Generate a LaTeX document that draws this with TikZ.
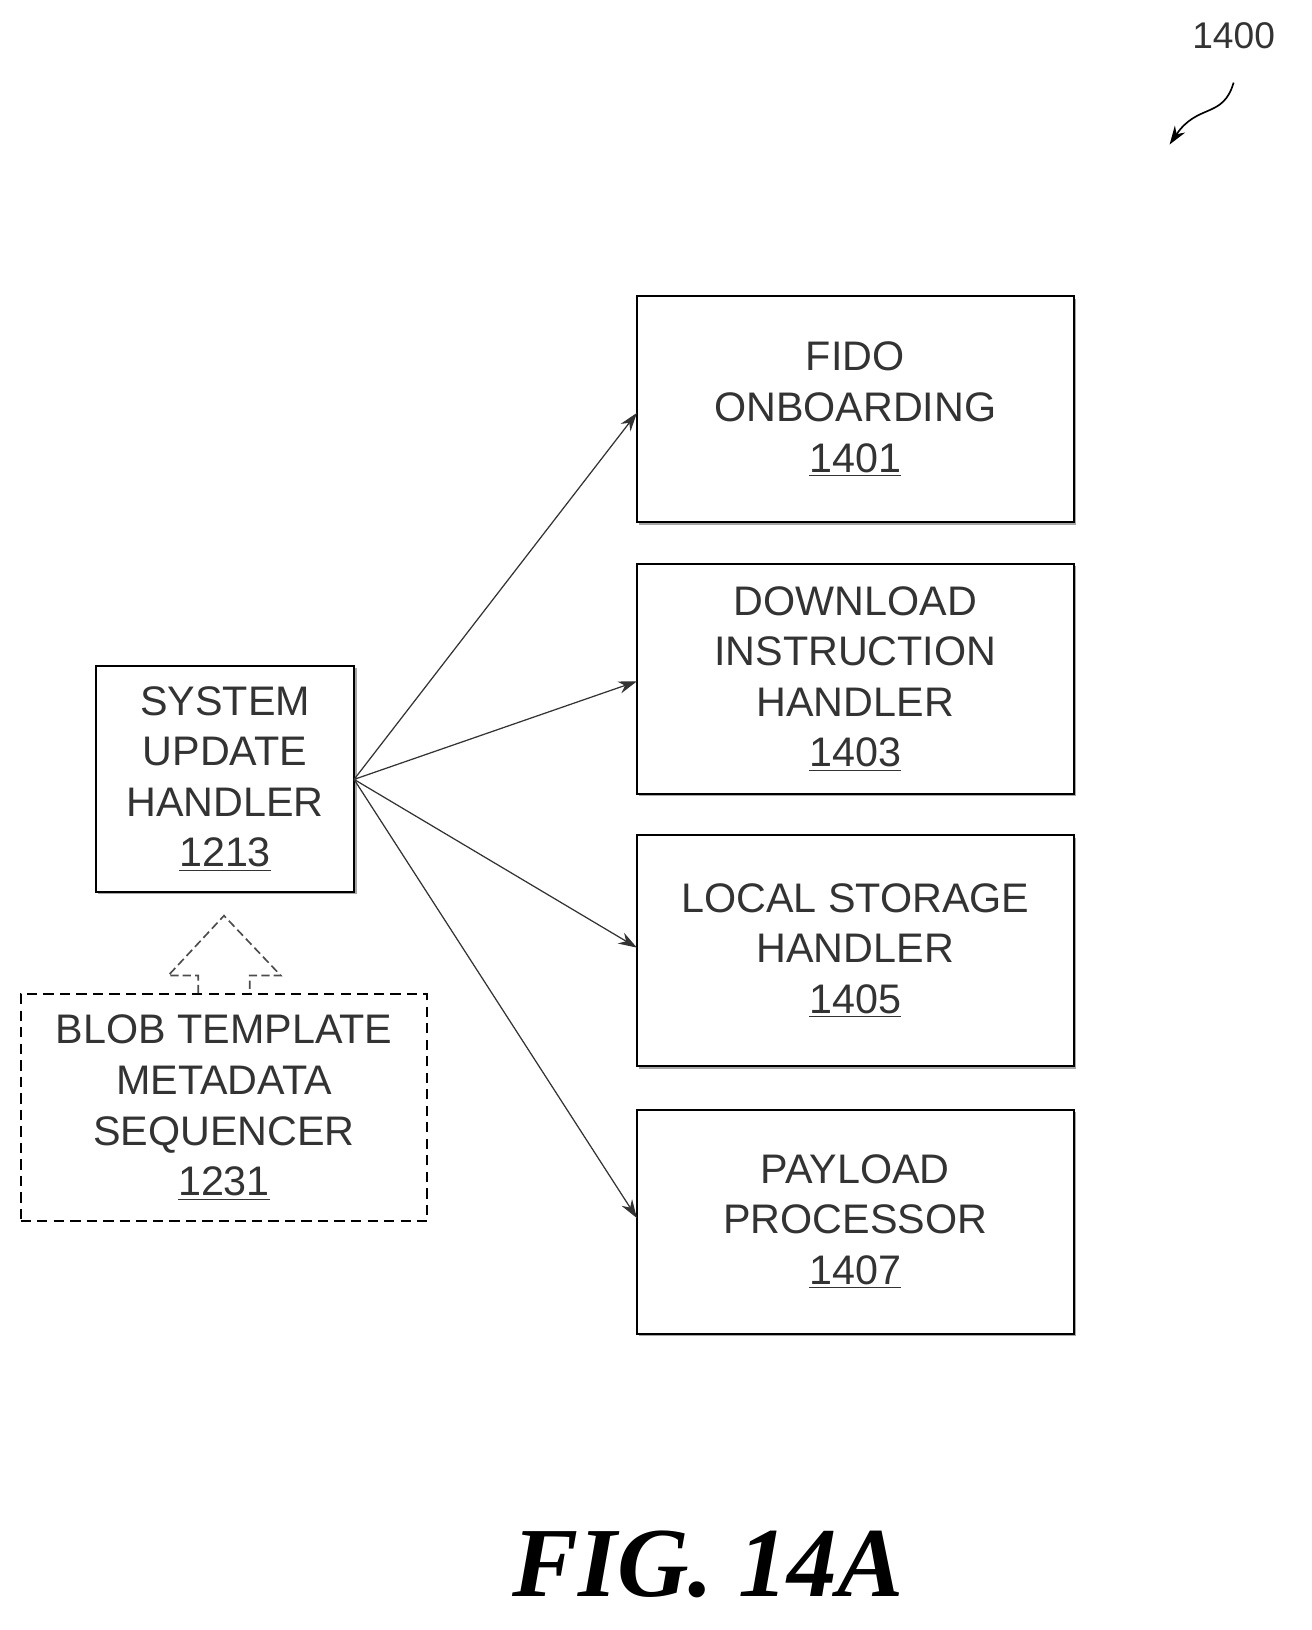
\documentclass[tikz,border=0pt]{standalone}
\usepackage{fontspec}
\setmainfont{Liberation Sans}
\newfontfamily\figfont{Liberation Serif}
\usetikzlibrary{arrows.meta,shadows}
\begin{document}
\begin{tikzpicture}[x=0.5pt,y=-0.5pt,
  txt/.style={align=center,font=\fontsize{20}{24.5}\selectfont\color{black!80},inner sep=0pt},
  box/.style={txt,draw,line width=1pt,fill=white,drop shadow={shadow xshift=1.2pt,shadow yshift=-1.2pt,opacity=0.7,fill=gray}},
  arr/.style={-{Stealth[length=9pt,width=6pt]},line width=0.6pt,draw=black!80}]
\useasboundingbox (0,0) rectangle (1270,1579);
\node[box,minimum width=211.5pt,minimum height=109.5pt] (f) at (828.5,396.5) {FIDO\\ONBOARDING\\\underline{1401}};
\node[box,minimum width=211.5pt,minimum height=111.5pt] (d) at (828.5,657.5) {DOWNLOAD\\INSTRUCTION\\HANDLER\\\underline{1403}};
\node[box,minimum width=211.5pt,minimum height=112pt] (l) at (828.5,921) {LOCAL STORAGE\\HANDLER\\\underline{1405}};
\node[box,minimum width=211.5pt,minimum height=108.5pt] (p) at (828.5,1183.5) {PAYLOAD\\PROCESSOR\\\underline{1407}};
\node[box,minimum width=125pt,minimum height=109.5pt] (s) at (218,754.5) {SYSTEM\\UPDATE\\HANDLER\\\underline{1213}};
\node[txt,draw,dash pattern=on 5pt off 3pt,line width=1pt,minimum width=197pt,minimum height=110pt] (b) at (217,1073) {BLOB TEMPLATE\\METADATA\\SEQUENCER\\\underline{1231}};
\coordinate (o) at (343,755);
\draw[arr] (o) -- (617,400);
\draw[arr] (o) -- (617,660);
\draw[arr] (o) -- (617,918);
\draw[arr] (o) -- (617,1180);
\draw[dash pattern=on 4pt off 2pt,line width=0.8pt,draw=black!70] (192,962) -- (192,945) -- (163,945) -- (217,887) -- (272,945) -- (242,945) -- (242,962);
\node[font=\fontsize{18}{20}\selectfont\color{black!80}] (n) at (1195,35) {1400};
\coordinate (t) at (1133,140);
\draw[-{Stealth[length=9pt,width=6pt]},line width=0.8pt] (1195,80) .. controls (1185,115) and (1160,100) .. (t);
\node[font=\fontsize{48}{50}\selectfont\figfont\bfseries\itshape,text=black] (fig) at (686,1515) {FIG. 14A};
\end{tikzpicture}
\end{document}
